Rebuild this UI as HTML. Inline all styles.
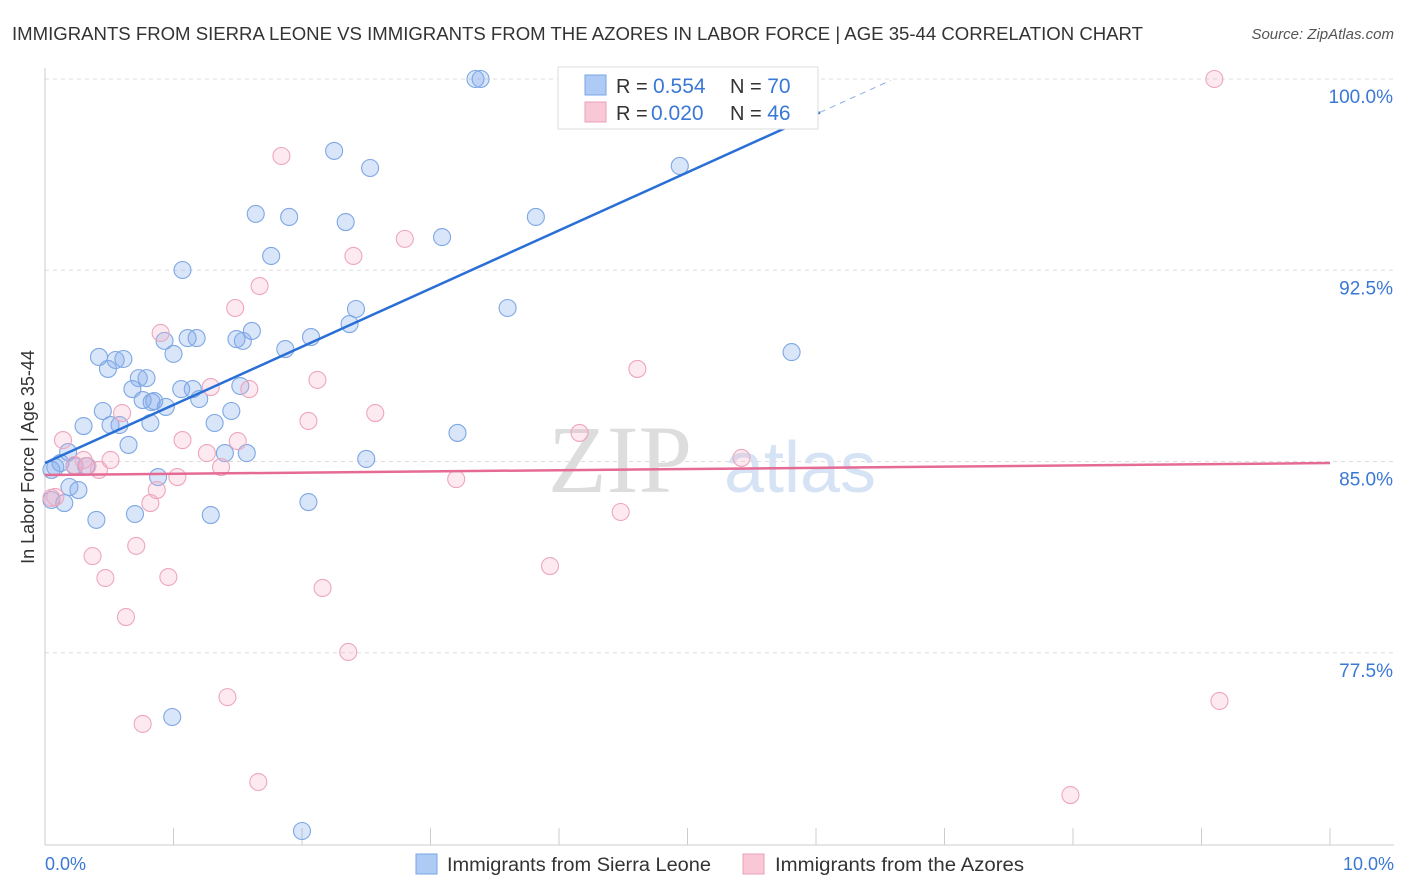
<!DOCTYPE html>
<html><head><meta charset="utf-8"><style>
body{margin:0;background:#fff;font-family:"Liberation Sans",sans-serif}
</style></head><body>
<svg id="chart" width="1406" height="892" style="display:block">
<text x="12" y="40" font-size="18" fill="#333" textLength="1131" lengthAdjust="spacingAndGlyphs">IMMIGRANTS FROM SIERRA LEONE VS IMMIGRANTS FROM THE AZORES IN LABOR FORCE | AGE 35-44 CORRELATION CHART</text>
<text x="1394" y="39" font-size="15" fill="#555" font-style="italic" text-anchor="end">Source: ZipAtlas.com</text>
<text x="620" y="492" font-size="96" fill="#ddd" font-family="Liberation Serif" text-anchor="middle">ZIP</text>
<text x="800" y="492" font-size="72" fill="#d5e3f5" text-anchor="middle">atlas</text>
<g id="grid"></g><g id="axes"></g><g id="pts"></g><g id="trend"></g>
<text transform="translate(34,457) rotate(-90)" font-size="18" fill="#333" text-anchor="middle">In Labor Force | Age 35-44</text>
<text x="45" y="870" font-size="18" fill="#3a78d4">0.0%</text>
<text x="1394" y="870" font-size="18" fill="#3a78d4" text-anchor="end">10.0%</text>
<g>
<rect x="558" y="67" width="260" height="62" fill="#fff" stroke="#ddd"/>
<rect x="585" y="75" width="21" height="20" fill="#aecbf5" stroke="#7aa6e6"/>
<rect x="585" y="102" width="21" height="20" fill="#f8c8d7" stroke="#ee9fb9"/>
<text x="616" y="93" font-size="20" fill="#333">R = <tspan x="653" fill="#3a78d4" font-size="21">0.554</tspan><tspan x="730">N = </tspan><tspan fill="#3a78d4" font-size="21">70</tspan></text>
<text x="616" y="120" font-size="20" fill="#333">R = <tspan x="651" fill="#3a78d4" font-size="21">0.020</tspan><tspan x="730">N = </tspan><tspan fill="#3a78d4" font-size="21">46</tspan></text>
</g>
<g>
<rect x="416" y="854" width="21" height="20" fill="#aecbf5" stroke="#7aa6e6"/>
<text x="447" y="871" font-size="19" fill="#333" textLength="264" lengthAdjust="spacingAndGlyphs">Immigrants from Sierra Leone</text>
<rect x="743" y="854" width="21" height="20" fill="#f8c8d7" stroke="#ee9fb9"/>
<text x="775" y="871" font-size="19" fill="#333" textLength="249" lengthAdjust="spacingAndGlyphs">Immigrants from the Azores</text>
</g>
</svg>
<script>
const yTicks=[100,92.5,85,77.5];
const yTickLabels=["100.0%","92.5%","85.0%","77.5%"];
const xTicks=[0,1,2,3,4,5,6,7,8,9,10];
const blueX=[0.05,0.08,0.12,0.05,0.15,0.19,0.26,0.23,0.18,0.32,0.40,0.30,0.45,0.51,0.42,0.49,0.55,0.61,0.58,0.65,0.68,0.73,0.79,0.76,0.83,0.85,0.94,0.82,0.88,0.70,0.99,1.07,0.93,1.00,1.11,1.18,1.06,1.15,1.20,1.29,1.32,1.40,1.45,1.49,1.54,1.61,1.52,1.57,1.64,1.76,1.90,1.87,2.07,2.05,2.25,2.34,2.37,2.42,2.50,2.53,3.09,3.21,3.35,3.39,3.60,3.82,4.94,5.81,2.00,4.30];
const blueY=[84.67,84.78,84.94,83.49,83.37,84.0,83.88,84.82,85.37,84.82,82.71,86.39,86.98,86.43,89.1,88.63,88.98,89.02,86.43,85.65,87.84,88.27,88.27,87.41,87.33,87.37,87.14,86.51,84.39,82.94,74.98,92.51,89.73,89.22,89.84,89.84,87.84,87.84,87.45,82.90,86.51,85.33,86.98,89.80,89.73,90.12,87.96,85.33,94.71,93.06,94.59,89.41,89.88,83.41,97.18,94.39,90.39,90.98,85.10,96.51,93.80,86.12,100,100,91.02,94.59,96.59,89.29,70.51,99.96];
const pinkX=[0.05,0.08,0.14,0.23,0.33,0.30,0.37,0.42,0.47,0.51,0.60,0.63,0.71,0.76,0.82,0.87,0.90,0.96,1.03,1.07,1.26,1.29,1.37,1.42,1.48,1.50,1.59,1.66,1.67,1.84,2.05,2.12,2.16,2.36,2.40,2.57,2.80,3.20,4.16,4.48,3.93,4.61,5.42,7.98,9.10,9.14];
const pinkY=[83.57,83.61,85.84,84.86,84.82,85.06,81.29,84.67,80.43,85.06,86.90,78.90,81.69,74.71,83.37,83.88,90.04,80.47,84.39,85.84,85.33,87.92,84.78,75.76,91.02,85.80,87.84,72.43,91.88,96.98,86.59,88.20,80.04,77.53,93.06,86.90,93.73,84.31,86.12,83.02,80.90,88.63,85.14,71.92,100,75.61];
const blueTrend=[84.94,2.28];
const pinkTrend=[84.47,0.047];
const NS="http://www.w3.org/2000/svg";
const sx=v=>45+v*128.5, sy=v=>79+(100-v)*25.5;
function mk(p,t,a){const e=document.createElementNS(NS,t);for(const k in a)e.setAttribute(k,a[k]);document.getElementById(p).appendChild(e);return e;}
yTicks.forEach((t,i)=>{
 let l=mk('grid','line',{x1:45,x2:1394,y1:sy(t),y2:sy(t),stroke:'#ddd','stroke-dasharray':'4,4'});
 
 
 let tx=mk('grid','text',{x:1393,y:sy(t)+24,'font-size':19,fill:'#3a78d4','text-anchor':'end'});tx.textContent=yTickLabels[i];
 
 
});
let ax=mk('axes','line',{x1:45,x2:45,y1:68,y2:845,stroke:'#ccc'});


let bx=mk('axes','line',{x1:45,x2:1394,y1:845,y2:845,stroke:'#ccc'});


xTicks.forEach(t=>{let l=mk('axes','line',{x1:sx(t),x2:sx(t),y1:828,y2:845,stroke:'#ccc'});
 
 });
blueX.forEach((x,i)=>{let c=mk('pts','circle',{cx:sx(x),cy:sy(blueY[i]),r:8.5,fill:'rgba(130,170,235,0.3)',stroke:'#7ea8e4','stroke-width':1.1});
 
 });
pinkX.forEach((x,i)=>{let c=mk('pts','circle',{cx:sx(x),cy:sy(pinkY[i]),r:8.5,fill:'rgba(245,170,195,0.25)',stroke:'#eea6bf','stroke-width':1.1});
 
 });
const bEnd=6.03,bDash=6.58;
let bl=mk('trend','line',{x1:sx(0),y1:sy(blueTrend[0]),x2:sx(bEnd),y2:sy(blueTrend[0]+blueTrend[1]*bEnd),stroke:'#2a6fd6','stroke-width':2.5});


let bd=mk('trend','line',{x1:sx(bEnd),y1:sy(blueTrend[0]+blueTrend[1]*bEnd),x2:sx(bDash),y2:sy(blueTrend[0]+blueTrend[1]*bDash),stroke:'#8aaee6','stroke-width':1,'stroke-dasharray':'6,5'});


let pl=mk('trend','line',{x1:sx(0),y1:sy(pinkTrend[0]),x2:sx(10),y2:sy(pinkTrend[0]+pinkTrend[1]*10),stroke:'#e56b95','stroke-width':2.5});


</script>
</body></html>
